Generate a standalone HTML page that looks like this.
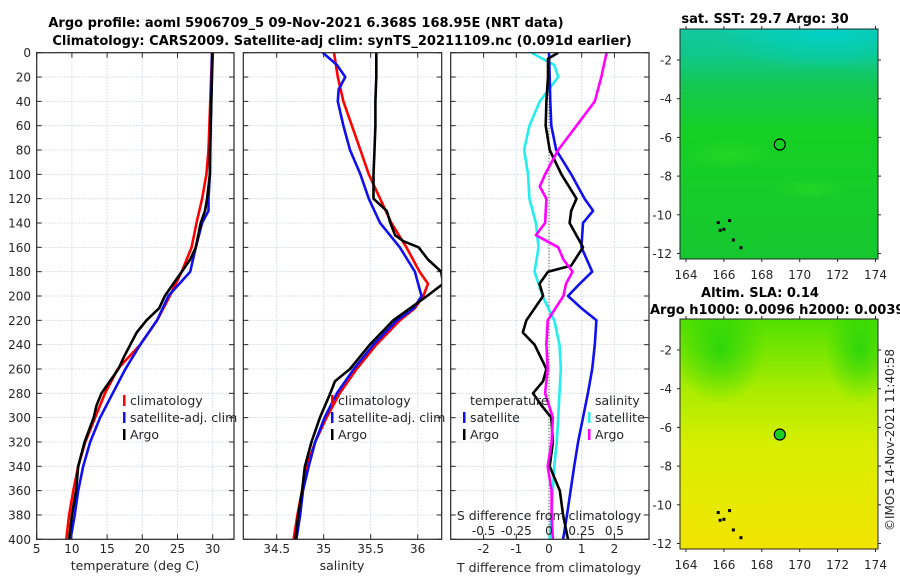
<!DOCTYPE html>
<html><head><meta charset="utf-8">
<style>
html,body{margin:0;padding:0;background:#fff;}
svg{display:block;font-family:"DejaVu Sans","Liberation Sans",sans-serif;}
</style></head>
<body>
<svg id="fig" width="900" height="580" viewBox="0 0 900 580" xmlns="http://www.w3.org/2000/svg">
<defs>
<clipPath id="c1"><rect x="36.7" y="52.7" width="197.3" height="486.6"/></clipPath>
<clipPath id="c2"><rect x="243.3" y="52.7" width="198.4" height="486.6"/></clipPath>
<clipPath id="c3"><rect x="450.7" y="52.7" width="198.3" height="486.6"/></clipPath>
<clipPath id="m1"><rect x="680" y="29" width="198" height="230"/></clipPath>
<clipPath id="m2"><rect x="680" y="319" width="198" height="230"/></clipPath>
<linearGradient id="sstg" x1="0" y1="0" x2="0" y2="1">
<stop offset="0" stop-color="#12c8a0"/><stop offset="0.12" stop-color="#10c888"/><stop offset="0.25" stop-color="#14c850"/><stop offset="0.45" stop-color="#16d024"/><stop offset="1" stop-color="#16c830"/>
</linearGradient>
<radialGradient id="sstteal" cx="0.75" cy="0" r="0.6"><stop offset="0" stop-color="#00d0c8"/><stop offset="1" stop-color="#00d0c8" stop-opacity="0"/></radialGradient>
<radialGradient id="blobg"><stop offset="0" stop-color="#10d010" stop-opacity="0.7"/><stop offset="1" stop-color="#10d010" stop-opacity="0"/></radialGradient>
<radialGradient id="blobl"><stop offset="0" stop-color="#30e020" stop-opacity="0.5"/><stop offset="1" stop-color="#30e020" stop-opacity="0"/></radialGradient>
<linearGradient id="slag" x1="0" y1="0" x2="0" y2="1">
<stop offset="0" stop-color="#50e000"/><stop offset="0.3" stop-color="#a8ec00"/><stop offset="0.55" stop-color="#d8ee00"/><stop offset="1" stop-color="#f2e400"/>
</linearGradient>
</defs>
<g id="titles">
<text x="306" y="27" font-size="13" font-weight="bold" text-anchor="middle" fill="#000">Argo profile: aoml 5906709_5 09-Nov-2021 6.368S 168.95E (NRT data)</text>
<text x="342" y="45" font-size="13" font-weight="bold" text-anchor="middle" fill="#000">Climatology: CARS2009. Satellite-adj clim: synTS_20211109.nc (0.091d earlier)</text>
<text x="765" y="23" font-size="13" font-weight="bold" text-anchor="middle">sat. SST: 29.7 Argo: 30</text>
<text x="760" y="297" font-size="13" font-weight="bold" text-anchor="middle">Altim. SLA: 0.14</text>
<text x="650" y="314" font-size="13" font-weight="bold">Argo h1000: 0.0096 h2000: 0.0039</text>
<text transform="translate(894,440) rotate(-90)" font-size="12" text-anchor="middle" fill="#262626">©IMOS 14-Nov-2021 11:40:58</text>
</g>
<g id="panels"></g>
<g id="maps"></g>
</svg>
<script>
// depth grid (m)
const depths=[0,20,40,60,80,100,120,140,160,180,200,220,240,260,280,300,320,340,360,380,400];
// temperature (deg C)
const tClimDepth=[0,80,100,120,140,160,180,200,220,240,260,280,300,320,340,360,380,400];
const tClim=[29.9,29.4,29.1,28.5,27.7,27.0,25.6,23.9,22.1,19.7,16.5,14.7,13.3,11.9,10.9,10.2,9.6,9.2];
const tSatDepth=[0,100,120,130,140,160,180,200,220,240,260,280,300,320,340,360,380,400];
const tSat=[29.9,29.6,29.4,29.4,28.5,27.6,26.8,23.7,22.1,19.7,17.6,15.8,14.0,12.6,11.6,10.9,10.4,9.8];
const tArgoDepth=[0,80,100,120,130,140,160,170,180,190,200,210,220,230,240,250,260,270,280,290,300,320,340,360,380,400];
const tArgo=[30.0,29.6,29.6,29.2,28.9,28.3,27.6,26.8,25.6,24.4,23.2,22.4,20.6,19.2,18.3,17.4,16.6,15.4,14.2,13.5,13.1,11.8,10.9,10.6,10.0,9.6];
// salinity
const sClimDepth=[0,20,40,60,80,100,120,140,160,180,190,200,210,220,240,260,280,300,320,340,360,380,400];
const sClim=[35.11,35.15,35.21,35.30,35.39,35.48,35.60,35.72,35.88,36.02,36.11,36.06,35.97,35.81,35.56,35.35,35.17,35.03,34.91,34.82,34.77,34.72,34.68];
const sSatDepth=[0,10,20,30,40,60,80,100,120,140,160,180,200,210,220,240,260,280,300,320,340,360,380,400];
const sSat=[34.99,35.14,35.23,35.16,35.15,35.21,35.28,35.39,35.48,35.60,35.81,35.97,36.04,35.96,35.78,35.53,35.32,35.14,35.01,34.91,34.84,34.78,34.75,34.71];
const sArgoDepth=[0,20,40,60,80,100,120,125,130,140,150,155,160,170,180,190,200,210,220,240,260,270,280,300,320,340,360,380,400];
const sArgo=[35.56,35.56,35.55,35.55,35.54,35.53,35.53,35.60,35.67,35.71,35.76,35.85,36.01,36.11,36.25,36.27,36.10,35.92,35.74,35.49,35.28,35.12,35.07,34.96,34.87,34.80,34.77,34.73,34.70];
// differences
const dTSatDepth=[0,20,40,60,80,100,120,130,140,160,180,190,200,210,220,240,260,280,300,320,340,360,380,400];
const dTSat=[0,0.02,0.04,0.07,0.22,0.68,1.09,1.35,1.04,0.99,1.32,0.94,0.58,0.99,1.45,1.40,1.32,1.19,1.04,0.89,0.77,0.66,0.55,0.43];
const dTArgoDepth=[0,5,20,40,60,80,100,120,130,140,160,175,180,190,200,220,230,240,260,270,280,290,300,320,340,360,380,400];
const dTArgo=[0.28,-0.03,-0.03,-0.08,-0.10,0.02,0.38,0.84,0.68,0.63,1.04,0.68,-0.03,-0.29,-0.18,-0.69,-0.80,-0.44,-0.08,-0.18,-0.49,-0.23,0.07,0.12,0.02,0.33,0.43,0.58];
const dSSatDepth=[0,10,20,40,60,80,100,120,140,160,180,200,220,240,260,280,300,320,340,360,380,400];
const dSSat=[-0.135,0.04,0.07,-0.07,-0.15,-0.19,-0.16,-0.15,-0.10,-0.08,-0.11,-0.05,0.04,0.08,0.09,0.08,0.07,0.06,0.04,0.03,0.02,0.005];
const dSArgoDepth=[0,20,40,60,80,100,110,120,140,150,160,170,180,190,200,220,240,260,280,300,320,340,360,380,400];
const dSArgo=[0.44,0.40,0.35,0.21,0.07,-0.03,-0.07,-0.02,-0.03,-0.10,0.07,0.11,0.18,0.13,0.11,-0.01,-0.02,-0.01,-0.03,0.03,0.02,-0.01,0.02,0.02,0.03];
// tick labels
const depthTicks=[0,20,40,60,80,100,120,140,160,180,200,220,240,260,280,300,320,340,360,380,400];
const tTicks=[5,10,15,20,25,30];
const sTicks=[34.5,35,35.5,36];
const dTTicks=[-2,-1,0,1,2];
const dSTicks=["-0.5","-0.25","0","0.25","0.5"];
const latTicks=[-2,-4,-6,-8,-10,-12];
const lonTicks=[164,166,168,170,172,174];
const argoLon=168.95, argoLat=-6.368;

const NS='http://www.w3.org/2000/svg';
const svg=document.getElementById('fig');
const panelsG=document.getElementById('panels');
const mapsG=document.getElementById('maps');
function mk(tag,attrs,parent){const e=document.createElementNS(NS,tag);for(const k in attrs)e.setAttribute(k,attrs[k]);(parent||svg).appendChild(e);return e;}
const Y0=52.7,Y1=539.3;
const yD=d=>Y0+d/400*(Y1-Y0);
function linX(v0,x0,v1,x1){return v=>x0+(v-v0)/(v1-v0)*(x1-x0);}
const xT=linX(5,36.7,30,212.7);
const xS=linX(34.5,276.7,36,417.7);
const xdT=linX(0,549,1,581.7);
const xdS=v=>xdT(v*4);

function frame(x0,x1,name){
  const g=mk('g',{},panelsG);
  
  
  return g;
}
function grid(g,x0,x1,xs){
  depthTicks.forEach(d=>{const y=yD(d);
    mk('line',{x1:x0,x2:x1,y1:y,y2:y,stroke:'#c6cde0','stroke-width':0.8,'stroke-dasharray':'1.5,1.5'},g);
    mk('line',{x1:x0,x2:x0+5,y1:y,y2:y,stroke:'#262626','stroke-width':1},g);
    mk('line',{x1:x1-5,x2:x1,y1:y,y2:y,stroke:'#262626','stroke-width':1},g);
  });
  xs.forEach(x=>{
    mk('line',{x1:x,x2:x,y1:Y0,y2:Y1,stroke:'#c6cde0','stroke-width':0.8,'stroke-dasharray':'1.5,1.5'},g);
    mk('line',{x1:x,x2:x,y1:Y1-5,y2:Y1,stroke:'#262626','stroke-width':1},g);
    mk('line',{x1:x,x2:x,y1:Y0,y2:Y0+5,stroke:'#262626','stroke-width':1},g);
  });
}
function box(g,x0,x1){mk('rect',{x:x0,y:Y0,width:x1-x0,height:Y1-Y0,fill:'none',stroke:'#262626','stroke-width':1.2},g);}
function series(g,clip,ds,vs,xf,color,name){
  const pts=ds.map((d,i)=>xf(vs[i]).toFixed(1)+','+yD(d).toFixed(1)).join(' ');
  const p=mk('polyline',{points:pts,fill:'none',stroke:color,'stroke-width':2.6,'stroke-linejoin':'round','clip-path':'url(#'+clip+')'},g);
  
  
}
function legendEntry(g,x,y,color,label,name){
  const gg=mk('g',{},g);
  
  
  mk('rect',{x:x,y:y-10,width:2.5,height:11,fill:color},gg);
  const t=mk('text',{x:x+7,y:y,'font-size':12.5,fill:'#262626'},gg);t.textContent=label;
}
function xlabels(g,ticks,xf,y){ticks.forEach(v=>{const t=mk('text',{x:xf(typeof v==='string'?parseFloat(v):v),y:y,'font-size':12,'text-anchor':'middle',fill:'#262626'},g);t.textContent=v;});}

// Panel 1
let g1=frame(36.7,234,'temperature-panel');
grid(g1,36.7,234,tTicks.map(xT));
series(g1,'c1',tClimDepth,tClim,xT,'#ff0000','temp-climatology-line');
series(g1,'c1',tSatDepth,tSat,xT,'#1010ee','temp-satellite-line');
series(g1,'c1',tArgoDepth,tArgo,xT,'#000000','temp-argo-line');
box(g1,36.7,234);
depthTicks.forEach(d=>{const t=mk('text',{x:31,y:yD(d)+4.5,'font-size':12,'text-anchor':'end',fill:'#262626'},g1);t.textContent=d;});
xlabels(g1,tTicks,xT,553);
let t1=mk('text',{x:135,y:570,'font-size':12.5,'text-anchor':'middle',fill:'#262626'},g1);t1.textContent='temperature (deg C)';

legendEntry(g1,123,405,'#ff0000','climatology','legend-climatology');
legendEntry(g1,123,422,'#1010ee','satellite-adj. clim','legend-satellite');
legendEntry(g1,123,439,'#000000','Argo','legend-argo');

// Panel 2
let g2=frame(243.3,441.7,'salinity-panel');
grid(g2,243.3,441.7,sTicks.map(xS));
series(g2,'c2',sClimDepth,sClim,xS,'#ff0000','sal-climatology-line');
series(g2,'c2',sSatDepth,sSat,xS,'#1010ee','sal-satellite-line');
series(g2,'c2',sArgoDepth,sArgo,xS,'#000000','sal-argo-line');
box(g2,243.3,441.7);
xlabels(g2,sTicks,xS,553);
let t2=mk('text',{x:342,y:570,'font-size':12.5,'text-anchor':'middle',fill:'#262626'},g2);t2.textContent='salinity';

legendEntry(g2,331,405,'#ff0000','climatology','legend-climatology-sal');
legendEntry(g2,331,422,'#1010ee','satellite-adj. clim','legend-satellite-sal');
legendEntry(g2,331,439,'#000000','Argo','legend-argo-sal');

// Panel 3
let g3=frame(450.7,649,'difference-panel');
grid(g3,450.7,649,dTTicks.map(xdT));
mk('line',{x1:549,x2:549,y1:Y0,y2:Y1,stroke:'#333','stroke-width':1,'stroke-dasharray':'1,2'},g3);
series(g3,'c3',dSSatDepth,dSSat,xdS,'#22eeee','sdiff-satellite-line');
series(g3,'c3',dTSatDepth,dTSat,xdT,'#1010ee','tdiff-satellite-line');
series(g3,'c3',dTArgoDepth,dTArgo,xdT,'#000000','tdiff-argo-line');
series(g3,'c3',dSArgoDepth,dSArgo,xdS,'#ff00ff','sdiff-argo-line');
box(g3,450.7,649);
xlabels(g3,dTTicks,xdT,553);
let t3=mk('text',{x:549,y:572,'font-size':12.5,'text-anchor':'middle',fill:'#262626'},g3);t3.textContent='T difference from climatology';

let t4=mk('text',{x:549,y:520,'font-size':12.5,'text-anchor':'middle',fill:'#262626'},g3);t4.textContent='S difference from climatology';

xlabels(g3,dSTicks,xdS,535);
let lt=mk('text',{x:470,y:405,'font-size':12.5,fill:'#262626'},g3);lt.textContent='temperature';

legendEntry(g3,463,422,'#1010ee','satellite','legend-tdiff-satellite');
legendEntry(g3,463,439,'#000000','Argo','legend-tdiff-argo');
let ls=mk('text',{x:595,y:405,'font-size':12.5,fill:'#262626'},g3);ls.textContent='salinity';

legendEntry(g3,588,422,'#22eeee','satellite','legend-sdiff-satellite');
legendEntry(g3,588,439,'#ff00ff','Argo','legend-sdiff-argo');

// Maps
function map(top,name,fillId,clipId,extra){
  const g=mk('g',{},mapsG);
  
  
  const x0=680,x1=878,y0=top,y1=top+230;
  const xL=linX(164,686,174,875.5);
  const yL=linX(-2,top+31,-12,top+224.5);
  const inner=mk('g',{'clip-path':'url(#'+clipId+')'},g);
  mk('rect',{x:x0,y:y0,width:x1-x0,height:y1-y0,fill:'url(#'+fillId+')'},inner);
  extra(inner,x0,y0);
  mk('rect',{x:x0,y:y0,width:x1-x0,height:y1-y0,fill:'none',stroke:'#262626','stroke-width':1},g);
  latTicks.forEach(v=>{const y=yL(v);
    mk('line',{x1:x0-3,x2:x0,y1:y,y2:y,stroke:'#262626'},g);mk('line',{x1:x1,x2:x1+3,y1:y,y2:y,stroke:'#262626'},g);
    const t=mk('text',{x:x0-8,y:y+4.5,'font-size':12,'text-anchor':'end',fill:'#262626'},g);t.textContent=v;});
  lonTicks.forEach(v=>{const x=xL(v);
    mk('line',{x1:x,x2:x,y1:y1,y2:y1+3,stroke:'#262626'},g);mk('line',{x1:x,x2:x,y1:y0-3,y2:y0,stroke:'#262626'},g);
    const t=mk('text',{x:x,y:y1+20,'font-size':12,'text-anchor':'middle',fill:'#262626'},g);t.textContent=v;});
  [[165.8,-10.8],[166.0,-10.75],[166.5,-11.3],[166.9,-11.7],[165.7,-10.4],[166.3,-10.3]].forEach(p=>mk('rect',{x:xL(p[0])-1.5,y:yL(p[1])-1.5,width:3,height:3,fill:'#000'},g));
  const c=mk('circle',{cx:xL(argoLon),cy:yL(argoLat),r:5.5,fill:fillId==='slag'?'#18d020':'none',stroke:'#000','stroke-width':1.2},g);
  
  
}
map(29,'sst-map','sstg','m1',(g,x0,y0)=>{
  mk('rect',{x:x0,y:y0,width:198,height:70,fill:'url(#sstteal)'},g);
  mk('ellipse',{cx:x0+50,cy:y0+125,rx:45,ry:15,fill:'url(#blobl)'},g);
  mk('ellipse',{cx:x0+130,cy:y0+160,rx:35,ry:10,fill:'url(#blobl)'},g);
});
map(319,'sla-map','slag','m2',(g,x0,y0)=>{
  mk('ellipse',{cx:x0+40,cy:y0+30,rx:45,ry:55,fill:'url(#blobg)'},g);
  mk('ellipse',{cx:x0+180,cy:y0+30,rx:35,ry:55,fill:'url(#blobg)'},g);
});
</script>
</body></html>
